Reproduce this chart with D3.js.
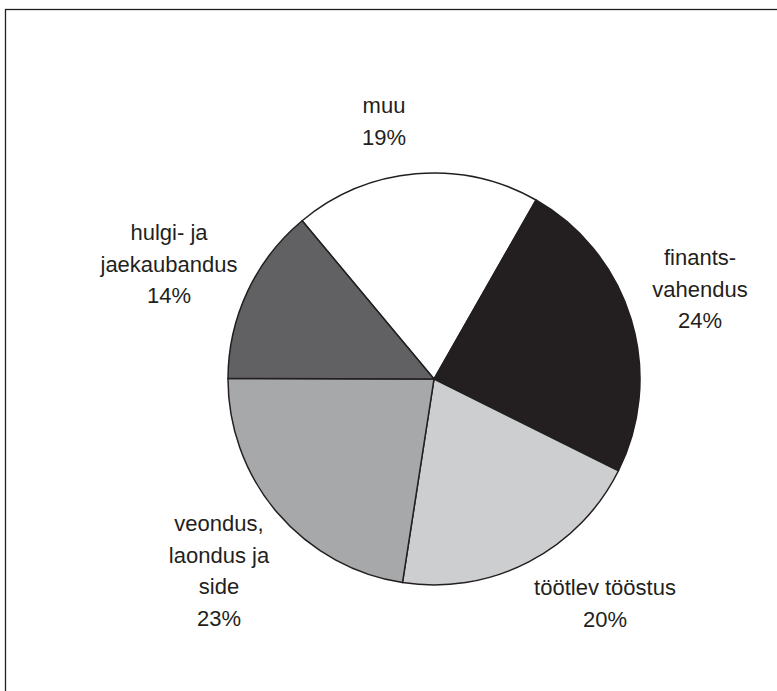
<!DOCTYPE html>
<html>
<head>
<meta charset="utf-8">
<script src="https://cdn.jsdelivr.net/npm/d3@7"></script>
<style>
  html, body { margin: 0; padding: 0; background: #fff; }
  svg { display: block; }
  text { font-family: "Liberation Sans", Arial, sans-serif; font-size: 22px; fill: #231f20; }
</style>
</head>
<body>
<svg id="chart" width="777" height="691"></svg>
<script>
// ---- data ----
const categories = ["muu", "finants-vahendus", "töötlev tööstus", "veondus, laondus ja side", "hulgi- ja jaekaubandus"];
const values = [19.3, 24.1, 20.1, 22.6, 13.9];
const labelLines = [
  ["muu", "19%"],
  ["finants-", "vahendus", "24%"],
  ["töötlev tööstus", "20%"],
  ["veondus,", "laondus ja", "side", "23%"],
  ["hulgi- ja", "jaekaubandus", "14%"]
];
const colors = ["#ffffff", "#231f20", "#cdcecf", "#a7a8aa", "#616163"];

// ---- layout ----
const W = 777, H = 691;
const cx = 434, cy = 379, R = 206;
const startDeg = -39.8;
const lineGap = 31.7;
// label anchor (first baseline) relative to pie centre
const labelAnchor = [
  [-50, -266],
  [266, -114],
  [171, 216],
  [-215, 152],
  [-265, -139]
];

const svg = d3.select("#chart");

// frame
svg.append("rect")
  .attr("x", 5.5).attr("y", 9.5)
  .attr("width", W + 20).attr("height", H + 20)
  .attr("fill", "none").attr("stroke", "#231f20").attr("stroke-width", 1.3);

const data = categories.map((c, i) => ({ name: c, value: values[i], color: colors[i], lines: labelLines[i], anchor: labelAnchor[i] }));

const start = startDeg * Math.PI / 180;
const pie = d3.pie().sort(null).value(d => d.value)
  .startAngle(start).endAngle(start + 2 * Math.PI);
const arc = d3.arc().innerRadius(0).outerRadius(R);

const g = svg.append("g").attr("transform", `translate(${cx},${cy})`);

g.selectAll("path.slice")
  .data(pie(data))
  .join("path")
  .attr("class", "slice")
  .attr("d", arc)
  .attr("fill", d => d.data.color)
  .attr("stroke", "#231f20")
  .attr("stroke-width", 1.5)
  .attr("stroke-linejoin", "round");

const labels = g.selectAll("text.lbl")
  .data(data)
  .join("text")
  .attr("class", "lbl")
  .attr("text-anchor", "middle")
  .attr("transform", d => `translate(${d.anchor[0]},${d.anchor[1]})`);

labels.selectAll("tspan")
  .data(d => d.lines)
  .join("tspan")
  .attr("x", 0)
  .attr("y", (d, i) => i * lineGap)
  .text(d => d);
</script>
</body>
</html>
